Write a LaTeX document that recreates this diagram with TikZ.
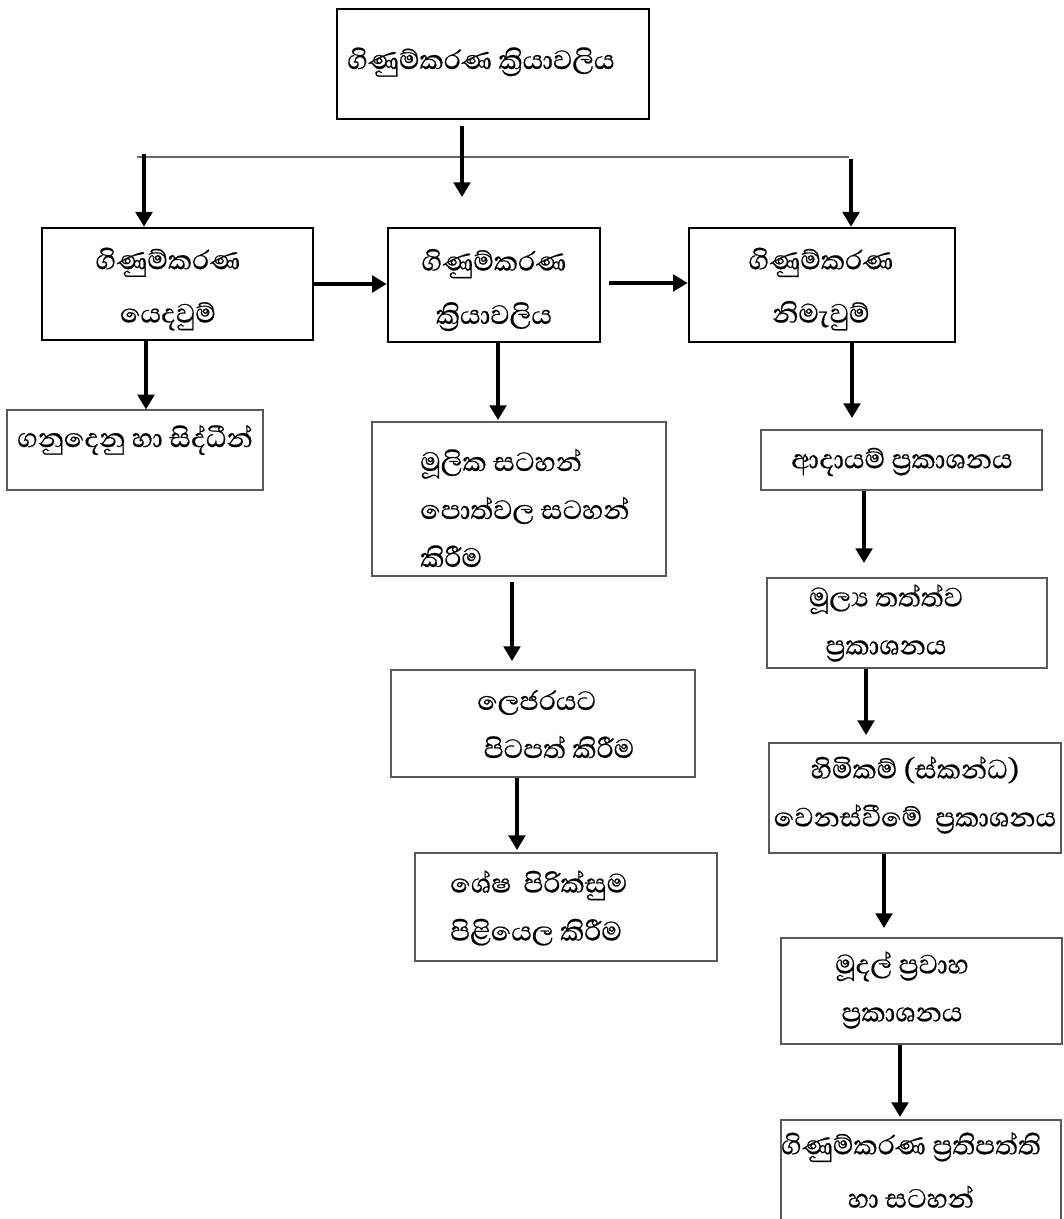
\documentclass[tikz,border=0pt]{standalone}
\usepackage{fontspec}
\newfontfamily\sinhala[Script=Sinhala, FakeBold=0.5]{Abhaya Libre}
\usetikzlibrary{arrows.meta,fit}

\tikzset{
  bigbox/.style={draw=black, line width=2pt, inner sep=0pt},
  smallbox/.style={draw=black!65, line width=0.9pt, inner sep=0pt},
  lbl/.style={font=\sinhala\fontsize{25.5}{36}\selectfont, inner sep=0pt},
  lblwide/.style={font=\sinhala\fontsize{25.5}{40}\selectfont, inner sep=0pt, align=center},
  arr/.style={line width=2.4pt, -{Triangle[length=11pt,width=12.5pt]}},
  rail/.style={draw=black!60, line width=0.8pt}
}

\begin{document}
\begin{tikzpicture}[x=0.75pt,y=-0.75pt]
\useasboundingbox (0,0) rectangle (1063,1219);

% frames
\node[bigbox, fit={(337,9) (649,119)}] (top) {};
\node[bigbox, fit={(42,228) (313,340)}] (inp) {};
\node[bigbox, fit={(388,228) (600,342)}] (proc) {};
\node[bigbox, fit={(689,228) (955,342)}] (outp) {};

\node[smallbox, fit={(7,410) (263,490)}] (trans) {};
\node[smallbox, fit={(372,422) (666,576)}] (prim) {};
\node[smallbox, fit={(391,670) (695,777)}] (ledg) {};
\node[smallbox, fit={(415,853) (717,961)}] (trial) {};

\node[smallbox, fit={(761,430) (1042,490)}] (inc) {};
\node[smallbox, fit={(767,578) (1047,668)}] (fin) {};
\node[smallbox, fit={(769,743) (1061,853)}] (eq) {};
\node[smallbox, fit={(781,938) (1062,1044)}] (cash) {};
\node[smallbox, fit={(781,1120) (1061,1240)}] (pol) {};

% labels
\node[lbl] (tTop) at (481,62) {ගිණුම්කරණ ක්^^^^200dරියාවලිය};
\node[lblwide] (tInp) at (168,289) {ගිණුම්කරණ\\යෙදවුම්};
\node[lblwide] (tProc) at (494,290) {ගිණුම්කරණ\\ක්^^^^200dරියාවලිය};
\node[lblwide] (tOutp) at (821,289) {ගිණුම්කරණ\\නිමැවුම්};
\node[lbl] (tTrans) at (135,440) {ගනුදෙනු හා සිද්ධීන්};
\node[lbl, align=left, anchor=west] (tPrim) at (420,508) {මූලික සටහන්\\පොත්වල සටහන්\\කිරීම};
\node[lbl, align=left, anchor=west] (tLedg) at (477,724) {ලෙජරයට\\\ පිටපත් කිරීම};
\node[lbl, align=left, anchor=west] (tTrial) at (450,908) {ශේෂ\ \ පිරික්සුම\\පිළියෙල කිරීම};
\node[lbl] (tInc) at (902,462) {ආදායම් ප්^^^^200dරකාශනය};
\node[lbl, align=center] (tFin) at (886,623) {මූල්^^^^200dය තත්ත්ව\\ප්^^^^200dරකාශනය};
\node[lbl, align=center] (tEq) at (915,795) {හිමිකම් (ස්කන්ධ)\\වෙනස්වීමේ\ \ ප්^^^^200dරකාශනය};
\node[lbl, align=center] (tCash) at (902,990) {මූදල් ප්^^^^200dරවාහ\\ප්^^^^200dරකාශනය};
\node[lblwide] (tPol) at (911,1170) {ගිණුම්කරණ ප්^^^^200dරතිපත්ති\\හා සටහන්};

% branching rail under the top frame
\coordinate (railL) at (137,157);
\coordinate (railR) at (849,157);
\draw[rail] (railL) -- (railR);

\coordinate (midTip) at (462,197);
\coordinate (lStart) at (144,154);
\coordinate (rStart) at (851,159);
\draw[arr] (top.south -| midTip) ++(0,6) -- (midTip);
\draw[arr] (lStart) -- (inp.north -| lStart);
\draw[arr] (rStart) -- (outp.north -| rStart);

% across the top row
\coordinate (pcStart) at (609,283);
\draw[arr] (inp.east |- 0,284) -- (proc.west |- 0,284);
\draw[arr] (pcStart) -- (outp.west |- pcStart);

% left column
\draw[arr] (inp.south -| 146,0) -- (trans.north -| 146,0);

% middle column
\coordinate (m1) at (498,420);
\coordinate (m2s) at (512,582);
\coordinate (m2) at (512,661);
\coordinate (m3) at (517,850);
\draw[arr] (proc.south -| m1) -- (m1);
\draw[arr] (m2s) -- (m2);
\draw[arr] (ledg.south -| m3) -- (m3);

% right column
\coordinate (r1) at (852,418);
\coordinate (r2) at (864,563);
\coordinate (r3) at (866,735);
\coordinate (r4) at (884,928);
\coordinate (r5) at (900,1117);
\draw[arr] (outp.south -| r1) -- (r1);
\draw[arr] (inc.south -| r2) -- (r2);
\draw[arr] (fin.south -| r3) -- (r3);
\draw[arr] (eq.south -| r4) -- (r4);
\draw[arr] (cash.south -| r5) -- (r5);
\end{tikzpicture}
\end{document}
